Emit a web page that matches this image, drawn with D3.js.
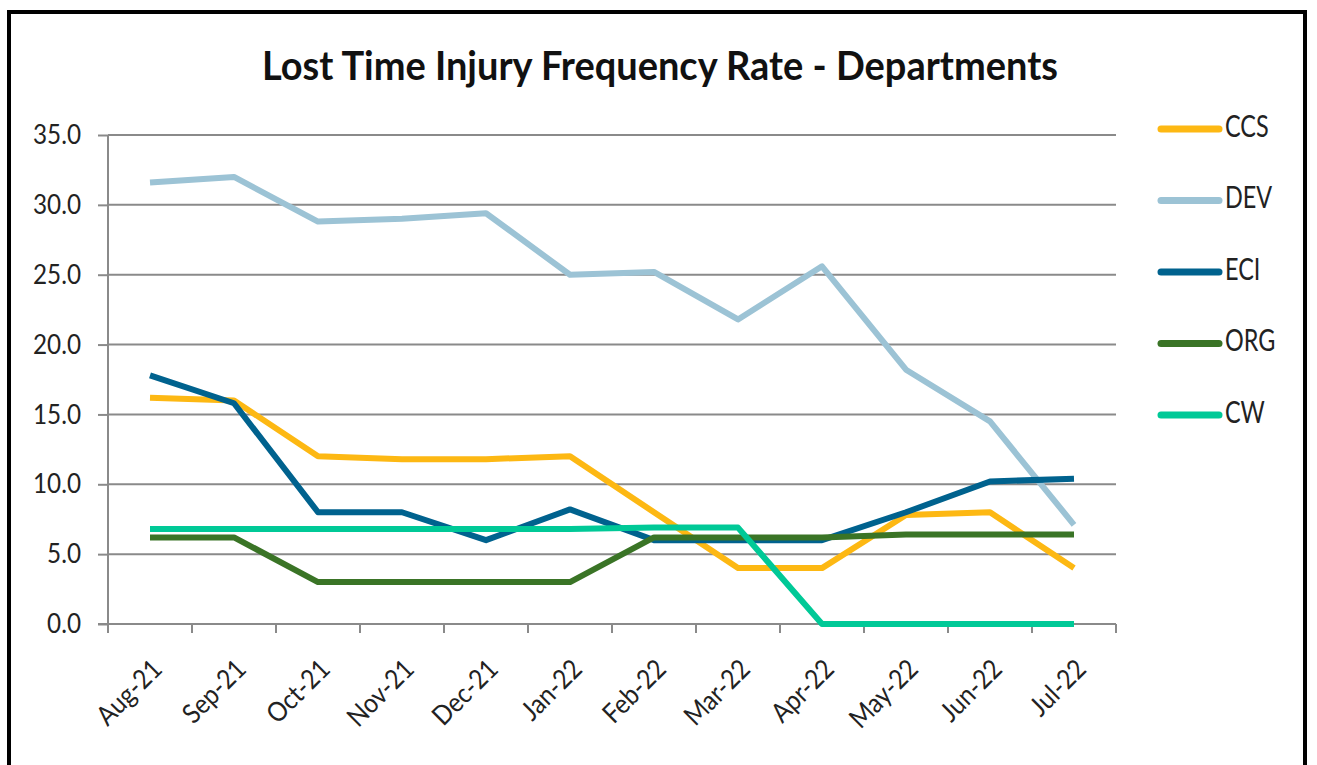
<!DOCTYPE html>
<html>
<head>
<meta charset="utf-8">
<script src="https://cdn.jsdelivr.net/npm/d3@7"></script>
<style>
  body { margin: 0; background: #fff; }
  svg { display: block; font-family: Lato, "Open Sans", sans-serif; }
</style>
</head>
<body>
<div id="chart"></div>
<script>
// chart values
var months = ["Aug-21","Sep-21","Oct-21","Nov-21","Dec-21","Jan-22","Feb-22","Mar-22","Apr-22","May-22","Jun-22","Jul-22"];
var ccs = [16.2, 16.0, 12.0, 11.8, 11.8, 12.0, 8.0, 4.0, 4.0, 7.8, 8.0, 4.0];
var dev = [31.6, 32.0, 28.8, 29.0, 29.4, 25.0, 25.2, 21.8, 25.6, 18.2, 14.5, 7.1];
var eci = [17.8, 15.8, 8.0, 8.0, 6.0, 8.2, 6.0, 6.0, 6.0, 8.0, 10.2, 10.4];
var org = [6.2, 6.2, 3.0, 3.0, 3.0, 3.0, 6.2, 6.2, 6.2, 6.4, 6.4, 6.4];
var cw  = [6.8, 6.8, 6.8, 6.8, 6.8, 6.8, 6.9, 6.9, 0.0, 0.0, 0.0, 0.0];
var yTicks = [0, 5, 10, 15, 20, 25, 30, 35];

var series = [
  {name: "CCS", values: ccs, color: "#FDB813"},
  {name: "DEV", values: dev, color: "#9CC3D5"},
  {name: "ECI", values: eci, color: "#00628E"},
  {name: "ORG", values: org, color: "#3A7426"},
  {name: "CW",  values: cw,  color: "#00C997"}
];

var width = 1317, height = 765;
var plotLeft = 108, plotRight = 1116, plotTop = 135, plotBottom = 624;
var gray = "#8a8a8a";

var svg = d3.select("#chart").append("svg")
  .attr("width", width)
  .attr("height", height);

// frame
svg.append("rect")
  .attr("x", 9).attr("y", 12)
  .attr("width", 1296).attr("height", 770)
  .attr("fill", "#fff")
  .attr("stroke", "#000")
  .attr("stroke-width", 4);

svg.append("text")
  .attr("x", 660).attr("y", 80)
  .attr("text-anchor", "middle")
  .attr("font-size", 41)
  .attr("font-weight", "bold")
  .attr("fill", "#111")
  .attr("textLength", 796)
  .attr("lengthAdjust", "spacingAndGlyphs")
  .text("Lost Time Injury Frequency Rate - Departments");

var x = d3.scaleBand().domain(months).range([plotLeft, plotRight]);
var y = d3.scaleLinear().domain([0, 35]).range([plotBottom, plotTop]);

// gridlines
svg.append("g").selectAll("line")
  .data(yTicks.filter(function(d) { return d > 0; }))
  .enter().append("line")
  .attr("x1", plotLeft).attr("x2", plotRight)
  .attr("y1", function(d) { return y(d); })
  .attr("y2", function(d) { return y(d); })
  .attr("stroke", gray)
  .attr("stroke-width", 2);

var yAxis = svg.append("g")
  .attr("transform", "translate(" + plotLeft + ",0)")
  .call(d3.axisLeft(y).tickValues(yTicks).tickSize(10)
    .tickFormat(d3.format(".1f")));
yAxis.select(".domain").remove();
yAxis.selectAll("line").attr("stroke", gray).attr("stroke-width", 2);
yAxis.append("line")
  .attr("x1", 0).attr("x2", 0)
  .attr("y1", plotTop).attr("y2", plotBottom + 9)
  .attr("stroke", gray).attr("stroke-width", 2);
// labels are narrow and tall in the original
yAxis.selectAll("text")
  .attr("x", 0)
  .attr("transform", "translate(-27,0) scale(0.9,1)")
  .attr("font-size", 27)
  .attr("fill", "#222")
  .attr("font-family", "Lato, sans-serif");

var tickPos = months.map(function(m) { return x(m); }).concat([plotRight]);
var xAxis = svg.append("g");
xAxis.append("line")
  .attr("x1", plotLeft - 10).attr("x2", plotRight)
  .attr("y1", plotBottom).attr("y2", plotBottom)
  .attr("stroke", gray).attr("stroke-width", 2);
xAxis.selectAll("line.tick")
  .data(tickPos)
  .enter().append("line")
  .attr("class", "tick")
  .attr("x1", function(d) { return d; }).attr("x2", function(d) { return d; })
  .attr("y1", plotBottom).attr("y2", plotBottom + 9)
  .attr("stroke", gray).attr("stroke-width", 2);

xAxis.selectAll("text")
  .data(months)
  .enter().append("text")
  .attr("transform", function(d) {
    return "translate(" + (x(d) + x.bandwidth() / 2 + 7) + "," + (plotBottom + 40) + ") rotate(-45) scale(0.9,1)";
  })
  .attr("text-anchor", "end")
  .attr("dy", "0.35em")
  .attr("font-size", 27)
  .attr("fill", "#222")
  .text(function(d) { return d; });

var line = d3.line()
  .x(function(d, i) { return x(months[i]) + x.bandwidth() / 2; })
  .y(function(d) { return y(d); });

svg.append("g").selectAll("path")
  .data(series)
  .enter().append("path")
  .attr("d", function(d) { return line(d.values); })
  .attr("fill", "none")
  .attr("stroke", function(d) { return d.color; })
  .attr("stroke-width", 6)
  .attr("stroke-linejoin", "round");

var legend = svg.append("g").selectAll("g")
  .data(series)
  .enter().append("g")
  .attr("transform", function(d, i) { return "translate(1161," + (129 + i * 71.5) + ")"; });
legend.append("line")
  .attr("x1", 0).attr("x2", 58)
  .attr("stroke", function(d) { return d.color; })
  .attr("stroke-width", 7)
  .attr("stroke-linecap", "round");
legend.append("text")
  .attr("transform", "translate(64,-3) scale(0.78,1)")
  .attr("dy", "0.35em")
  .attr("font-size", 30)
  .attr("fill", "#222")
  .text(function(d) { return d.name; });
</script>
</body>
</html>
